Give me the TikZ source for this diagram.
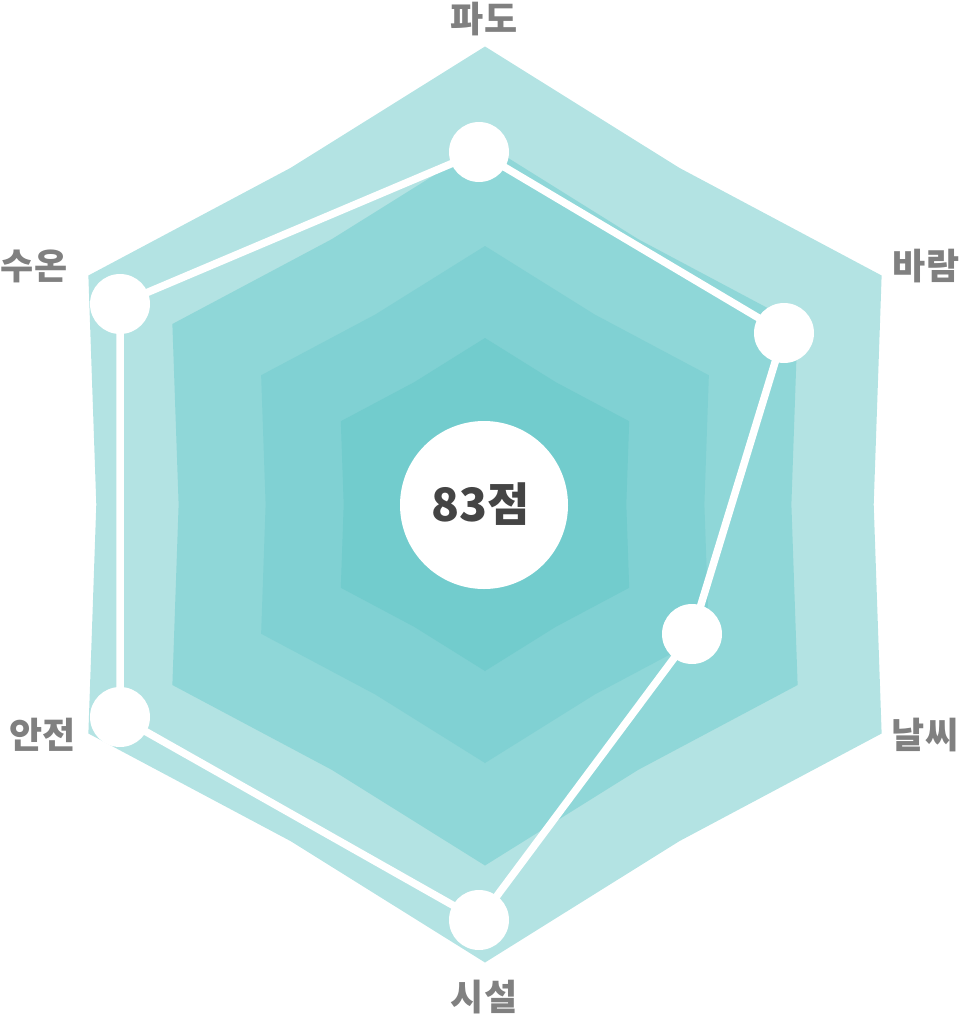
\documentclass[tikz,border=0pt]{standalone}
\usepackage{fontspec}
\setmainfont{Noto Sans CJK KR}
\definecolor{ringA}{HTML}{B3E3E3}
\definecolor{ringB}{HTML}{8FD7D8}
\definecolor{ringC}{HTML}{80D1D3}
\definecolor{ringD}{HTML}{72CCCD}
\definecolor{labelgray}{HTML}{808080}
\definecolor{scoregray}{HTML}{444444}
\newcommand{\radarring}[2]{%
  \fill[#2] (485,{504.5-#1})
    -- ({485+0.4244*#1},{504.5-0.7350*#1})
    -- ({485+0.8660*#1},{504.5-0.5*#1})
    -- ({485+0.8487*#1},504.5)
    -- ({485+0.8660*#1},{504.5+0.5*#1})
    -- ({485+0.4244*#1},{504.5+0.7350*#1})
    -- (485,{504.5+#1})
    -- ({485-0.4244*#1},{504.5+0.7350*#1})
    -- ({485-0.8660*#1},{504.5+0.5*#1})
    -- ({485-0.8487*#1},504.5)
    -- ({485-0.8660*#1},{504.5-0.5*#1})
    -- ({485-0.4244*#1},{504.5-0.7350*#1})
    -- cycle;}
\tikzset{
  datapt/.style={circle, fill=white, inner sep=0pt, minimum size=60pt},
  dataline/.style={white, line width=7.5pt, line join=round},
  axislabel/.style={text=labelgray, font=\fontsize{36}{40}\selectfont\bfseries, inner sep=0pt},
}
\begin{document}
\begin{tikzpicture}[x=1pt,y=-1pt]
\useasboundingbox (0,0) rectangle (960,1015);
\radarring{458}{ringA}
\radarring{361}{ringB}
\radarring{258.5}{ringC}
\radarring{166.5}{ringD}
\node[circle, fill=white, inner sep=0pt, minimum size=168pt] (score) at (484,505) {};
\node[text=scoregray, font=\fontsize{46}{50}\selectfont\bfseries, inner sep=0pt] (scoretext) at (481,504.5) {83점};
\node[datapt] (p1) at (479,152) {};
\node[datapt] (p2) at (784,333) {};
\node[datapt] (p3) at (692,634) {};
\node[datapt] (p4) at (479,920) {};
\node[datapt] (p5) at (120,717) {};
\node[datapt] (p6) at (120,304) {};
\draw[dataline] (p1.center) -- (p2.center) -- (p3.center) -- (p4.center) -- (p5.center) -- (p6.center) -- cycle;
\node[axislabel] (l1) at (484,19) {파도};
\node[axislabel] (l2) at (926,266) {바람};
\node[axislabel] (l3) at (925,735) {날씨};
\node[axislabel] (l4) at (484,997) {시설};
\node[axislabel] (l5) at (43,735) {안전};
\node[axislabel] (l6) at (34,266) {수온};
\end{tikzpicture}
\end{document}
